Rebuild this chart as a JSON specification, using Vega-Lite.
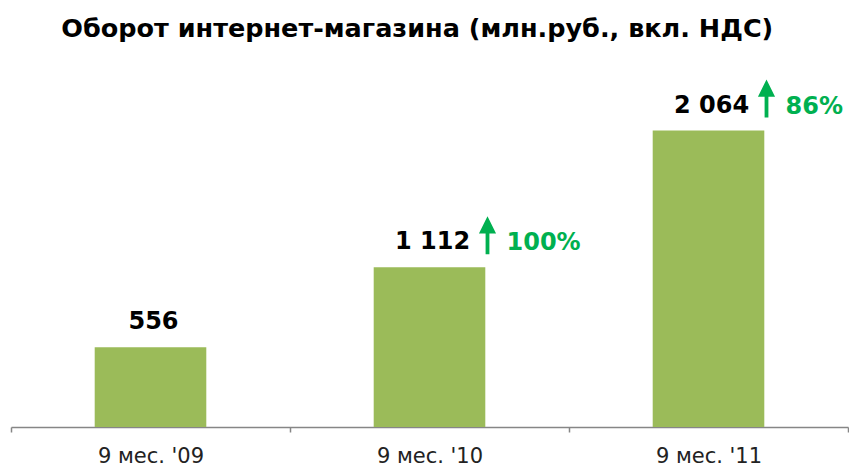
{
  "$schema": "https://vega.github.io/schema/vega-lite/v6.json",
  "autosize": {"type": "none"},
  "padding": {"left": 11, "top": 68, "right": 1, "bottom": 41},
  "width": 837,
  "height": 359,
  "background": "white",
  "config": {"view": {"stroke": null}, "font": "DejaVu Sans"},
  "title": {
    "text": "Оборот интернет-магазина (млн.руб., вкл. НДС)",
    "anchor": "start",
    "dx": 51,
    "offset": 26,
    "font": "DejaVu Sans",
    "fontSize": 25.5,
    "fontWeight": "bold",
    "color": "#000000"
  },
  "data": {
    "values": [
      {"period": "9 мес. '09", "value": 556, "label": "556", "growth": null},
      {"period": "9 мес. '10", "value": 1112, "label": "1 112", "growth": "100%"},
      {"period": "9 мес. '11", "value": 2064, "label": "2 064", "growth": "86%"}
    ]
  },
  "encoding": {
    "x": {
      "field": "period",
      "type": "nominal",
      "sort": null,
      "scale": {"paddingInner": 0, "paddingOuter": 0},
      "axis": {
        "title": null,
        "labelAngle": 0,
        "labelFont": "DejaVu Sans",
        "labelFontSize": 21,
        "labelColor": "#222222",
        "labelPadding": 13,
        "domainColor": "#868686",
        "domainWidth": 1.5,
        "tickColor": "#868686",
        "tickWidth": 1.5,
        "tickSize": 5,
        "tickBand": "extent"
      }
    },
    "y": {
      "field": "value",
      "type": "quantitative",
      "scale": {"domain": [0, 2500]},
      "axis": null
    }
  },
  "layer": [
    {
      "mark": {"type": "bar", "color": "#9BBB59", "width": {"band": 0.4}}
    },
    {
      "mark": {"type": "text", "font": "DejaVu Sans", "fontSize": 24, "fontWeight": "bold", "color": "#000000", "dy": -18, "dx": 3, "baseline": "alphabetic", "align": "center"},
      "encoding": {"text": {"field": "label"}}
    },
    {
      "transform": [{"filter": "datum.growth != null"}],
      "mark": {
        "type": "point",
        "filled": true,
        "color": "#00B050",
        "opacity": 1,
        "size": 1444,
        "strokeWidth": 0,
        "shape": "M0,-1 L0.45,-0.1 L0.1,-0.1 L0.1,1 L-0.1,1 L-0.1,-0.1 L-0.45,-0.1 Z",
        "xOffset": 58,
        "yOffset": -32
      }
    },
    {
      "transform": [{"filter": "datum.growth != null"}],
      "mark": {"type": "text", "font": "DejaVu Sans", "fontSize": 24, "fontWeight": "bold", "color": "#00B050", "dx": 77, "dy": -17, "baseline": "alphabetic", "align": "left"},
      "encoding": {"text": {"field": "growth"}}
    }
  ]
}
